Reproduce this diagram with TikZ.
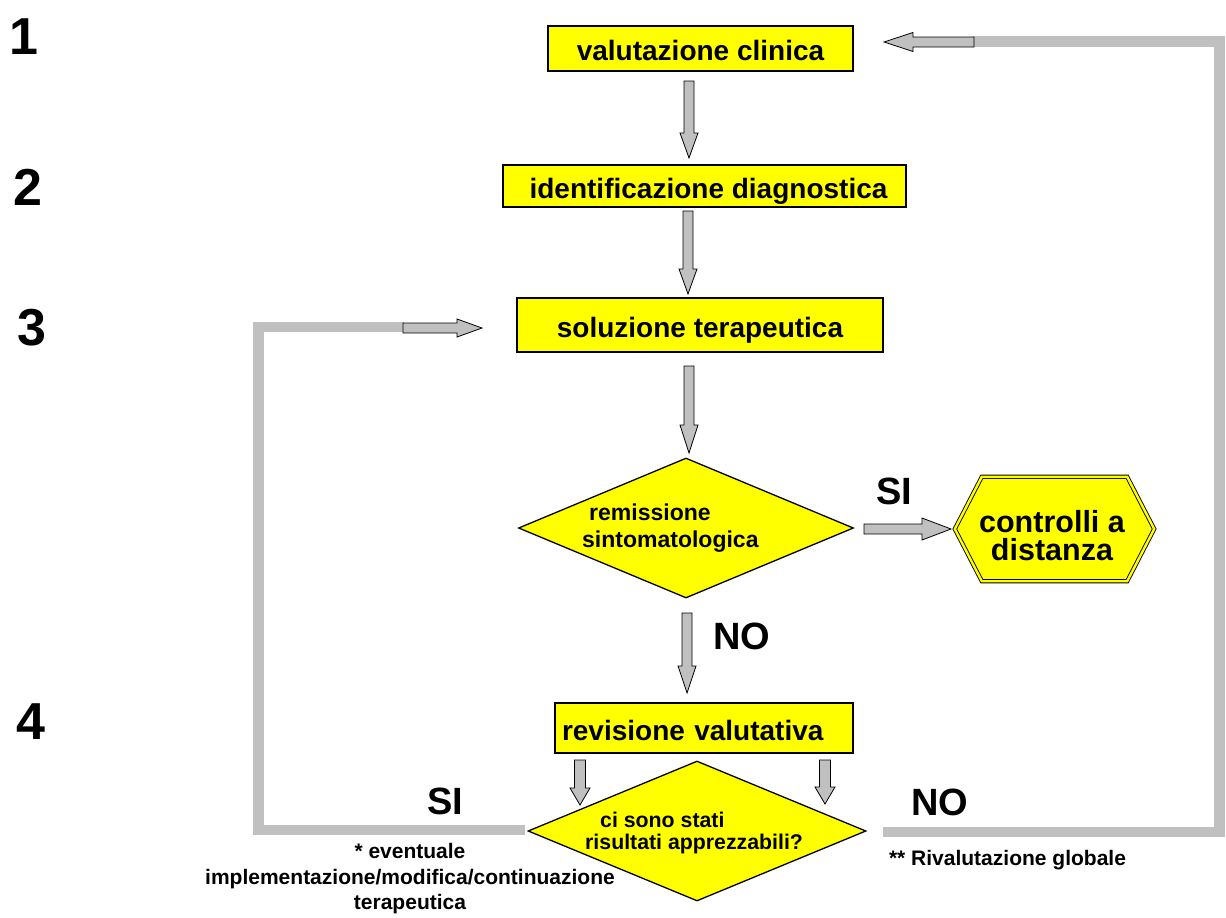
\documentclass[tikz,border=0pt]{standalone}
\usepackage{fontspec}
\setmainfont{Liberation Sans}
\usetikzlibrary{shapes.geometric,calc}
\definecolor{ylw}{RGB}{255,255,0}
\definecolor{agray}{RGB}{192,192,192}
\newcommand\setfs[1]{\fontsize{#1}{#1}\selectfont}
% block arrow: from, to, shaft half width, head half width, head length
\newcommand\blockarrow[5]{%
  \draw[barr] let \p1=(#1), \p2=(#2), \n1={atan2(\y2-\y1,\x2-\x1)} in
    ($(\p1)+(\n1+90:#3pt)$)
    -- ($(\p2)+(\n1+180:#5pt)+(\n1+90:#3pt)$)
    -- ($(\p2)+(\n1+180:#5pt)+(\n1+90:#4pt)$)
    -- (\p2)
    -- ($(\p2)+(\n1+180:#5pt)+(\n1-90:#4pt)$)
    -- ($(\p2)+(\n1+180:#5pt)+(\n1-90:#3pt)$)
    -- ($(\p1)+(\n1-90:#3pt)$) -- cycle;}
\begin{document}
\begin{tikzpicture}[x=1pt,y=-1pt,
  box/.style={draw=black, line width=1.3pt, fill=ylw, inner sep=0pt, text height=24pt, text depth=0pt, font=\bfseries\setfs{28}},
  dia/.style={diamond, draw=black, line width=1.3pt, fill=ylw, inner sep=0pt},
  dtext/.style={inner sep=0pt, anchor=base west, font=\bfseries\setfs{22}},
  num/.style={inner sep=0pt, font=\bfseries\setfs{52}},
  lab/.style={inner sep=0pt, font=\bfseries\setfs{38}},
  note/.style={inner sep=0pt, align=center, font=\bfseries\setfs{21}},
  barr/.style={draw=black, line width=0.8pt, fill=agray, line join=miter},
  fb/.style={draw=agray, line width=10.5pt, line join=miter, line cap=butt},
  hexb/.style={draw=black, double=ylw, double distance=2.4pt, line width=0.9pt, fill=ylw, line join=miter}
]
\useasboundingbox (0,0) rectangle (1226,918);

% step numbers
\node[num] (n1) at (24,37) {1};
\node[num] (n2) at (28,187) {2};
\node[num] (n3) at (32,328) {3};
\node[num] (n4) at (31,722) {4};

% boxes
\node[box, minimum width=305pt, minimum height=45pt] (v1) at (700.5,48.5) {valutazione clinica};
\node[box, minimum width=403pt, minimum height=42pt] (v2) at (704.5,186) {\hspace*{8pt}identificazione diagnostica};
\node[box, minimum width=366pt, minimum height=54pt] (v3) at (700,325) {soluzione terapeutica};
\node[box, minimum width=298pt, minimum height=50pt, text width=284pt, align=left, inner xsep=7pt] (v4) at (704,728) {revisione valutativa};

% diamonds
\node[dia, minimum width=335pt, minimum height=140pt] (d1) at (686,528) {};
\node[dtext, font=\bfseries\setfs{23}] (d1a) at (589,520) {remissione};
\node[dtext, font=\bfseries\setfs{23}] (d1b) at (582,547) {sintomatologica};

\node[dia, minimum width=338pt, minimum height=140pt] (d2) at (697,831) {};
\node[dtext, font=\bfseries\setfs{21.3}] (d2a) at (600,827) {ci sono stati};
\node[dtext, font=\bfseries\setfs{21.3}] (d2b) at (585,849) {risultati apprezzabili?};

% hexagon
\node[inner sep=0pt, minimum width=199pt, minimum height=104pt] (hex) at (1054.5,529) {};
\draw[hexb] (hex.west) -- ($(hex.north west)+(27,0)$) -- ($(hex.north east)+(-27,0)$)
  -- (hex.east) -- ($(hex.south east)+(-27,0)$) -- ($(hex.south west)+(27,0)$) -- cycle;
\node[inner sep=0pt, align=center, font=\bfseries\setfs{30.5}] (hext) at (1052,535.5) {controlli a\\[-3pt]distanza};

% labels
\node[lab] (si1) at (894.5,491.5) {SI};
\node[lab] (no1) at (741.5,636) {NO};
\node[lab] (si2) at (445.5,801) {SI};
\node[lab] (no2) at (939.5,802) {NO};

% notes
\node[note] (nt1) at (410,879) {* eventuale\\[5pt]implementazione/modifica/continuazione\\[4pt]terapeutica};
\node[note] (nt2) at (1007.5,860) {** Rivalutazione globale};

% feedback loops
\coordinate (la) at (525,830);
\coordinate (lb) at (258.5,830);
\coordinate (lc) at (258.5,327);
\coordinate (ld) at (404,327);
\draw[fb] (la) -- (lb) -- (lc) -- (ld);

\coordinate (ra) at (883,832);
\coordinate (rb) at (1219.5,832);
\coordinate (rc) at (1219.5,41.5);
\coordinate (rd) at (973,41.5);
\draw[fb] (ra) -- (rb) -- (rc) -- (rd);

% arrow end points
\coordinate (a1s) at (689,81);   \coordinate (a1e) at (689,158);
\coordinate (a2s) at (688,211);  \coordinate (a2e) at (688,294);
\coordinate (a3s) at (689,366);  \coordinate (a3e) at (689,453);
\coordinate (a4s) at (687,613);  \coordinate (a4e) at (687,693);
\coordinate (a5s) at (864,529);  \coordinate (a5e) at (951,529);
\coordinate (a6s) at (580,760);  \coordinate (a6e) at (580,805);
\coordinate (a7s) at (825,760);  \coordinate (a7e) at (825,804);
\coordinate (a8s) at (403,328);  \coordinate (a8e) at (482,328);
\coordinate (a9s) at (974,42);   \coordinate (a9e) at (884,42);

\blockarrow{a1s}{a1e}{5}{9}{25}
\blockarrow{a2s}{a2e}{5}{9}{25}
\blockarrow{a3s}{a3e}{5}{9}{28}
\blockarrow{a4s}{a4e}{5}{9}{27}
\blockarrow{a5s}{a5e}{5}{11}{29}
\blockarrow{a6s}{a6e}{5.5}{10}{17}
\blockarrow{a7s}{a7e}{5.5}{10}{17}
\blockarrow{a8s}{a8e}{5}{9}{25}
\blockarrow{a9s}{a9e}{5}{9.5}{29}
\end{tikzpicture}
\end{document}
